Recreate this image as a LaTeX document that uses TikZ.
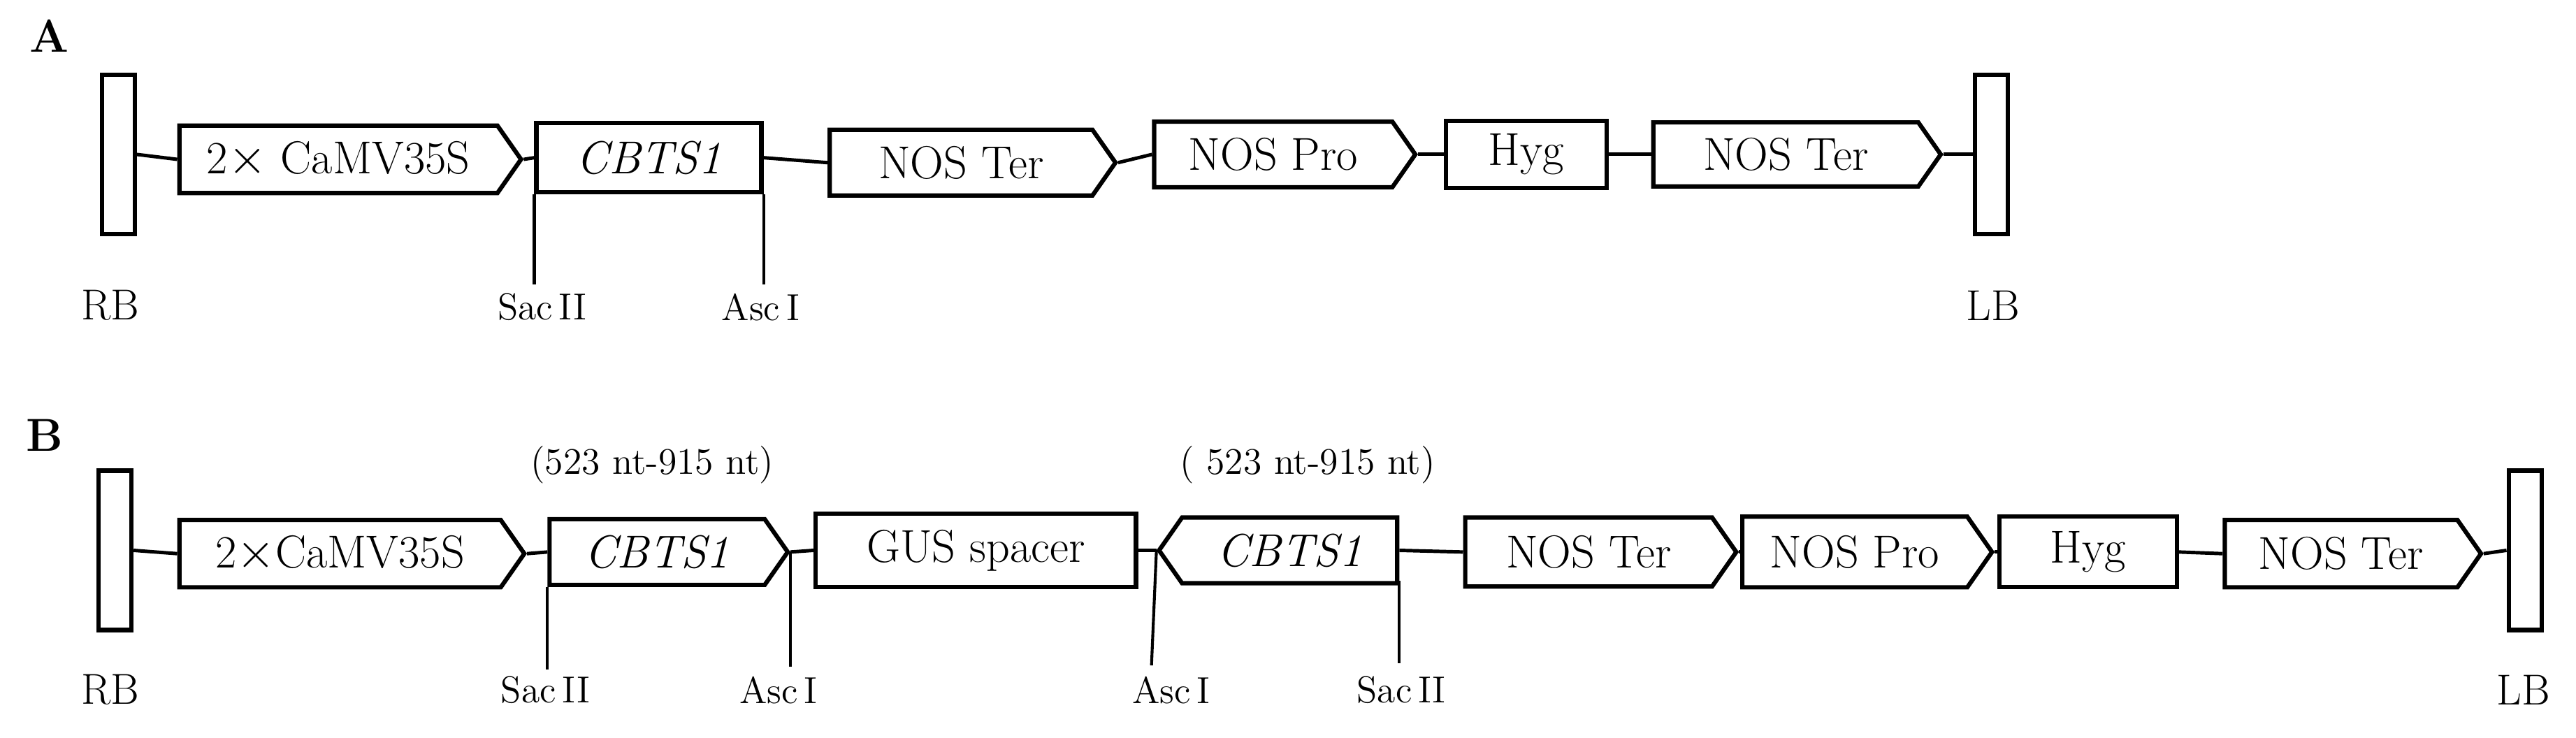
\documentclass[tikz,border=0pt]{standalone}
\usepackage{tikz}
\usetikzlibrary{shapes.symbols}
\tikzset{%%
  part/.style={draw, line width=1.5pt, inner sep=0pt, font=\fontsize{16}{18}\selectfont},
  box/.style={part, rectangle},
  fwd/.style={part, signal, signal to=east, signal pointer angle=110},
  rev/.style={part, signal, signal to=west, signal pointer angle=110},
  border/.style={draw, line width=1.5pt, minimum width=0.4cm, minimum height=1.94cm, inner sep=0pt},
  link/.style={line width=1.2pt},
  site/.style={line width=1pt},
  tag/.style={font=\fontsize{13}{15}\selectfont, inner sep=1pt},
  end/.style={font=\fontsize{15}{17}\selectfont}
  }

\begin{document}
\begin{tikzpicture}[x=0.02cm, y=-0.02cm]
  \useasboundingbox (0,0) rectangle (1568,449);
  % A
  \node[font=\fontsize{16}{18}\selectfont\bfseries] at (30,22) {A};
  \node[border] (rbA) at (72,94) {};
  \node[fwd, minimum width=4.16cm, minimum height=0.82cm] (camA) at (206,97) {2$\times$ CaMV35S};
  \node[box, minimum width=2.74cm, minimum height=0.84cm] (cbA) at (395,96) {\textit{CBTS1}};
  \node[fwd, minimum width=3.48cm, minimum height=0.8cm] (ntA) at (585,99) {NOS Ter};
  \node[fwd, minimum width=3.18cm, minimum height=0.8cm] (npA) at (775,94) {NOS Pro};
  \node[box, minimum width=1.96cm, minimum height=0.82cm] (hygA) at (929,94) {Hyg};
  \node[fwd, minimum width=3.5cm, minimum height=0.78cm] (nt2A) at (1087,94) {NOS Ter};
  \node[border] (lbA) at (1212,94) {};
  \draw[link] (rbA.east) -- (camA.west);
  \draw[link] (camA.east) -- (cbA.west);
  \draw[link] (cbA.east) -- (ntA.west);
  \draw[link] (ntA.east) -- (npA.west);
  \draw[link] (npA.east) -- (hygA.west);
  \draw[link] (hygA.east) -- (nt2A.west);
  \draw[link] (nt2A.east) -- (lbA.west);
  \node[end] (rbtA) at (67,186) {RB};
  \node[end] (lbtA) at (1213,186) {LB};
  \node[tag] (sacA) at (330,187) {Sac\,II};
  \node[tag] (ascA) at (463,187) {Asc\,I};
  \draw[site] (cbA.south west) -- ++(0,55);
  \draw[site] (cbA.south east) -- ++(0,55);
  % B
  \node[font=\fontsize{16}{18}\selectfont\bfseries] at (27,265) {B};
  \node[border] (rbB) at (70,335) {};
  \node[fwd, minimum width=4.2cm, minimum height=0.82cm] (camB) at (207,337) {2$\times$CaMV35S};
  \node[fwd, minimum width=2.9cm, minimum height=0.8cm] (cbB) at (400,336) {\textit{CBTS1}};
  \node[box, minimum width=3.9cm, minimum height=0.9cm] (gus) at (594,335) {GUS spacer};
  \node[rev, minimum width=2.9cm, minimum height=0.8cm] (cbrB) at (785,335) {\textit{CBTS1}};
  \node[fwd, minimum width=3.3cm, minimum height=0.84cm] (ntB) at (967,336) {NOS Ter};
  \node[fwd, minimum width=3.04cm, minimum height=0.86cm] (npB) at (1129,336) {NOS Pro};
  \node[box, minimum width=2.16cm, minimum height=0.86cm] (hygB) at (1271,336) {Hyg};
  \node[fwd, minimum width=3.12cm, minimum height=0.82cm] (nt2B) at (1425,337) {NOS Ter};
  \node[border] (lbB) at (1537,335) {};
  \draw[link] (rbB.east) -- (camB.west);
  \draw[link] (camB.east) -- (cbB.west);
  \draw[link] (cbB.east) -- (gus.west);
  \draw[link] (gus.east) -- (cbrB.west);
  \draw[link] (cbrB.east) -- (ntB.west);
  \draw[link] (ntB.east) -- (npB.west);
  \draw[link] (npB.east) -- (hygB.west);
  \draw[link] (hygB.east) -- (nt2B.west);
  \draw[link] (nt2B.east) -- (lbB.west);
  \node[tag] at (397,283) {(523 nt-915 nt)};
  \node[tag] at (796,283) {( 523 nt-915 nt)};
  \node[end] (rbtB) at (67,420) {RB};
  \node[end] (lbtB) at (1536,420) {LB};
  \node[tag] (sacB) at (332,420) {Sac\,II};
  \node[tag] (ascB) at (474,420) {Asc\,I};
  \node[tag] (asc2B) at (713,420) {Asc\,I};
  \node[tag] (sac2B) at (853,420) {Sac\,II};
  \draw[site] (cbB.south west) -- ++(0,50);
  \draw[site] (cbB.east) -- ++(0,70);
  \draw[site] (cbrB.west) -- ++(-3,70);
  \draw[site] (cbrB.south east) -- ++(0,50);
\end{tikzpicture}
\end{document}
